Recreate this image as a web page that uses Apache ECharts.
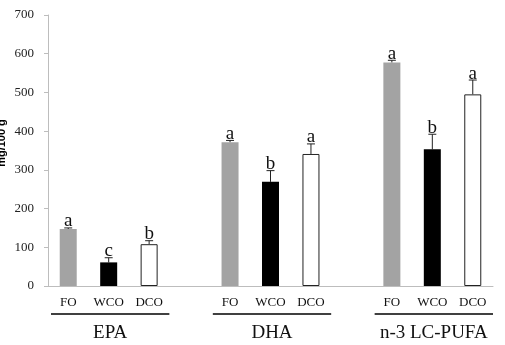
<!DOCTYPE html>
<html>
<head>
<meta charset="utf-8">
<script src="https://cdn.jsdelivr.net/npm/echarts@6/dist/echarts.min.js"></script>
<style>
  html, body { margin: 0; padding: 0; background: #fff; }
  #chart { width: 505px; height: 345px; }
</style>
</head>
<body>
<div id="chart"></div>
<script>
// datos
const groups = ['EPA', 'DHA', 'n-3 LC-PUFA'];
const oils = ['FO', 'WCO', 'DCO'];
const foValues = [147, 371, 577];
const wcoValues = [61, 269, 353];
const dcoValues = [108, 341, 495];
const foErr = [3, 5, 6];
const wcoErr = [12, 29, 39];
const dcoErr = [9, 26, 37];
const foLetters = ['a', 'a', 'a'];
const wcoLetters = ['c', 'b', 'b'];
const dcoLetters = ['b', 'a', 'a'];
const yTicks = [0, 100, 200, 300, 400, 500, 600, 700];
const yTitle = 'mg/100 g';

const serif = '"Liberation Serif", "Times New Roman", serif';
const oilStyles = [
  { color: '#a3a3a3' },
  { color: '#000000' },
  { color: '#ffffff', borderColor: '#222', borderWidth: 1 }
];

// categorias: 3 aceites por grupo, con un hueco entre grupos
const categories = [];
const barData = [];
const errData = [];
const valuesByOil = [foValues, wcoValues, dcoValues];
const errByOil = [foErr, wcoErr, dcoErr];
const lettersByOil = [foLetters, wcoLetters, dcoLetters];

groups.forEach((g, gi) => {
  if (gi > 0) {
    categories.push('');
    barData.push('-');
  }
  oils.forEach((oil, oi) => {
    const idx = categories.length;
    categories.push(oil);
    const v = valuesByOil[oi][gi];
    barData.push({ value: v, itemStyle: oilStyles[oi] });
    errData.push([idx, v, errByOil[oi][gi], lettersByOil[oi][gi]]);
  });
});

const chart = echarts.init(document.getElementById('chart'));

chart.setOption({
  animation: false,
  grid: { left: 48, right: 12, top: 15, bottom: 59, outerBoundsMode: 'none', containLabel: false },
  xAxis: {
    type: 'category',
    data: categories,
    axisLine: { lineStyle: { color: '#bdbdbd', width: 1 } },
    axisTick: { show: false },
    axisLabel: { interval: 0, margin: 10, fontFamily: serif, fontSize: 13, color: '#111' }
  },
  yAxis: {
    type: 'value',
    min: yTicks[0],
    max: yTicks[yTicks.length - 1],
    interval: 100,
    axisLine: { show: true, lineStyle: { color: '#bdbdbd', width: 1 } },
    axisTick: { show: true, length: 4, lineStyle: { color: '#bdbdbd' } },
    splitLine: { show: false },
    axisLabel: { margin: 14, fontFamily: serif, fontSize: 13, color: '#222' }
  },
  series: [
    {
      type: 'bar',
      data: barData,
      barWidth: 17
    },
    {
      type: 'custom',
      data: errData,
      renderItem: (params, api) => {
        const x = api.coord([api.value(0), 0])[0];
        const base = api.coord([api.value(0), api.value(1)])[1];
        const top = api.coord([api.value(0), api.value(1) + api.value(2)])[1];
        const letter = errData[params.dataIndex][3];
        return {
          type: 'group',
          children: [
            { type: 'line', shape: { x1: x, y1: base, x2: x, y2: top }, style: { stroke: '#222', lineWidth: 1 } },
            { type: 'line', shape: { x1: x - 4, y1: top, x2: x + 4, y2: top }, style: { stroke: '#222', lineWidth: 1 } },
            {
              type: 'text',
              style: {
                x: x, y: top + 3, text: letter,
                align: 'center', verticalAlign: 'bottom',
                fontFamily: serif, fontSize: 19, fill: '#111'
              }
            }
          ]
        };
      }
    }
  ]
});

// lineas y nombres de grupo debajo del eje
const band = chart.convertToPixel({ xAxisIndex: 0 }, 1) - chart.convertToPixel({ xAxisIndex: 0 }, 0);
const baseY = chart.convertToPixel({ yAxisIndex: 0 }, 0);
const graphics = [];
groups.forEach((g, gi) => {
  const first = gi * 4;
  const x1 = chart.convertToPixel({ xAxisIndex: 0 }, first) - band / 2 + 3;
  const x2 = chart.convertToPixel({ xAxisIndex: 0 }, first + 2) + band / 2;
  graphics.push({
    type: 'line',
    shape: { x1: x1, y1: baseY + 28, x2: x2, y2: baseY + 28 },
    style: { stroke: '#000', lineWidth: 1.5 }
  });
  graphics.push({
    type: 'text',
    style: {
      x: (x1 + x2) / 2, y: baseY + 47, text: g,
      align: 'center', verticalAlign: 'middle',
      fontFamily: serif, fontSize: 19, fill: '#111'
    }
  });
});

// titulo del eje y, recortado por el borde izquierdo como en el original
graphics.push({
  type: 'text',
  x: 2,
  y: 143,
  rotation: Math.PI / 2,
  style: {
    text: yTitle, align: 'center', verticalAlign: 'middle',
    fontFamily: '"Liberation Sans", Arial, sans-serif', fontWeight: 'bold', fontSize: 11, fill: '#000'
  }
});
chart.setOption({ graphic: graphics });

window.addEventListener('resize', () => chart.resize());
</script>
</body>
</html>
